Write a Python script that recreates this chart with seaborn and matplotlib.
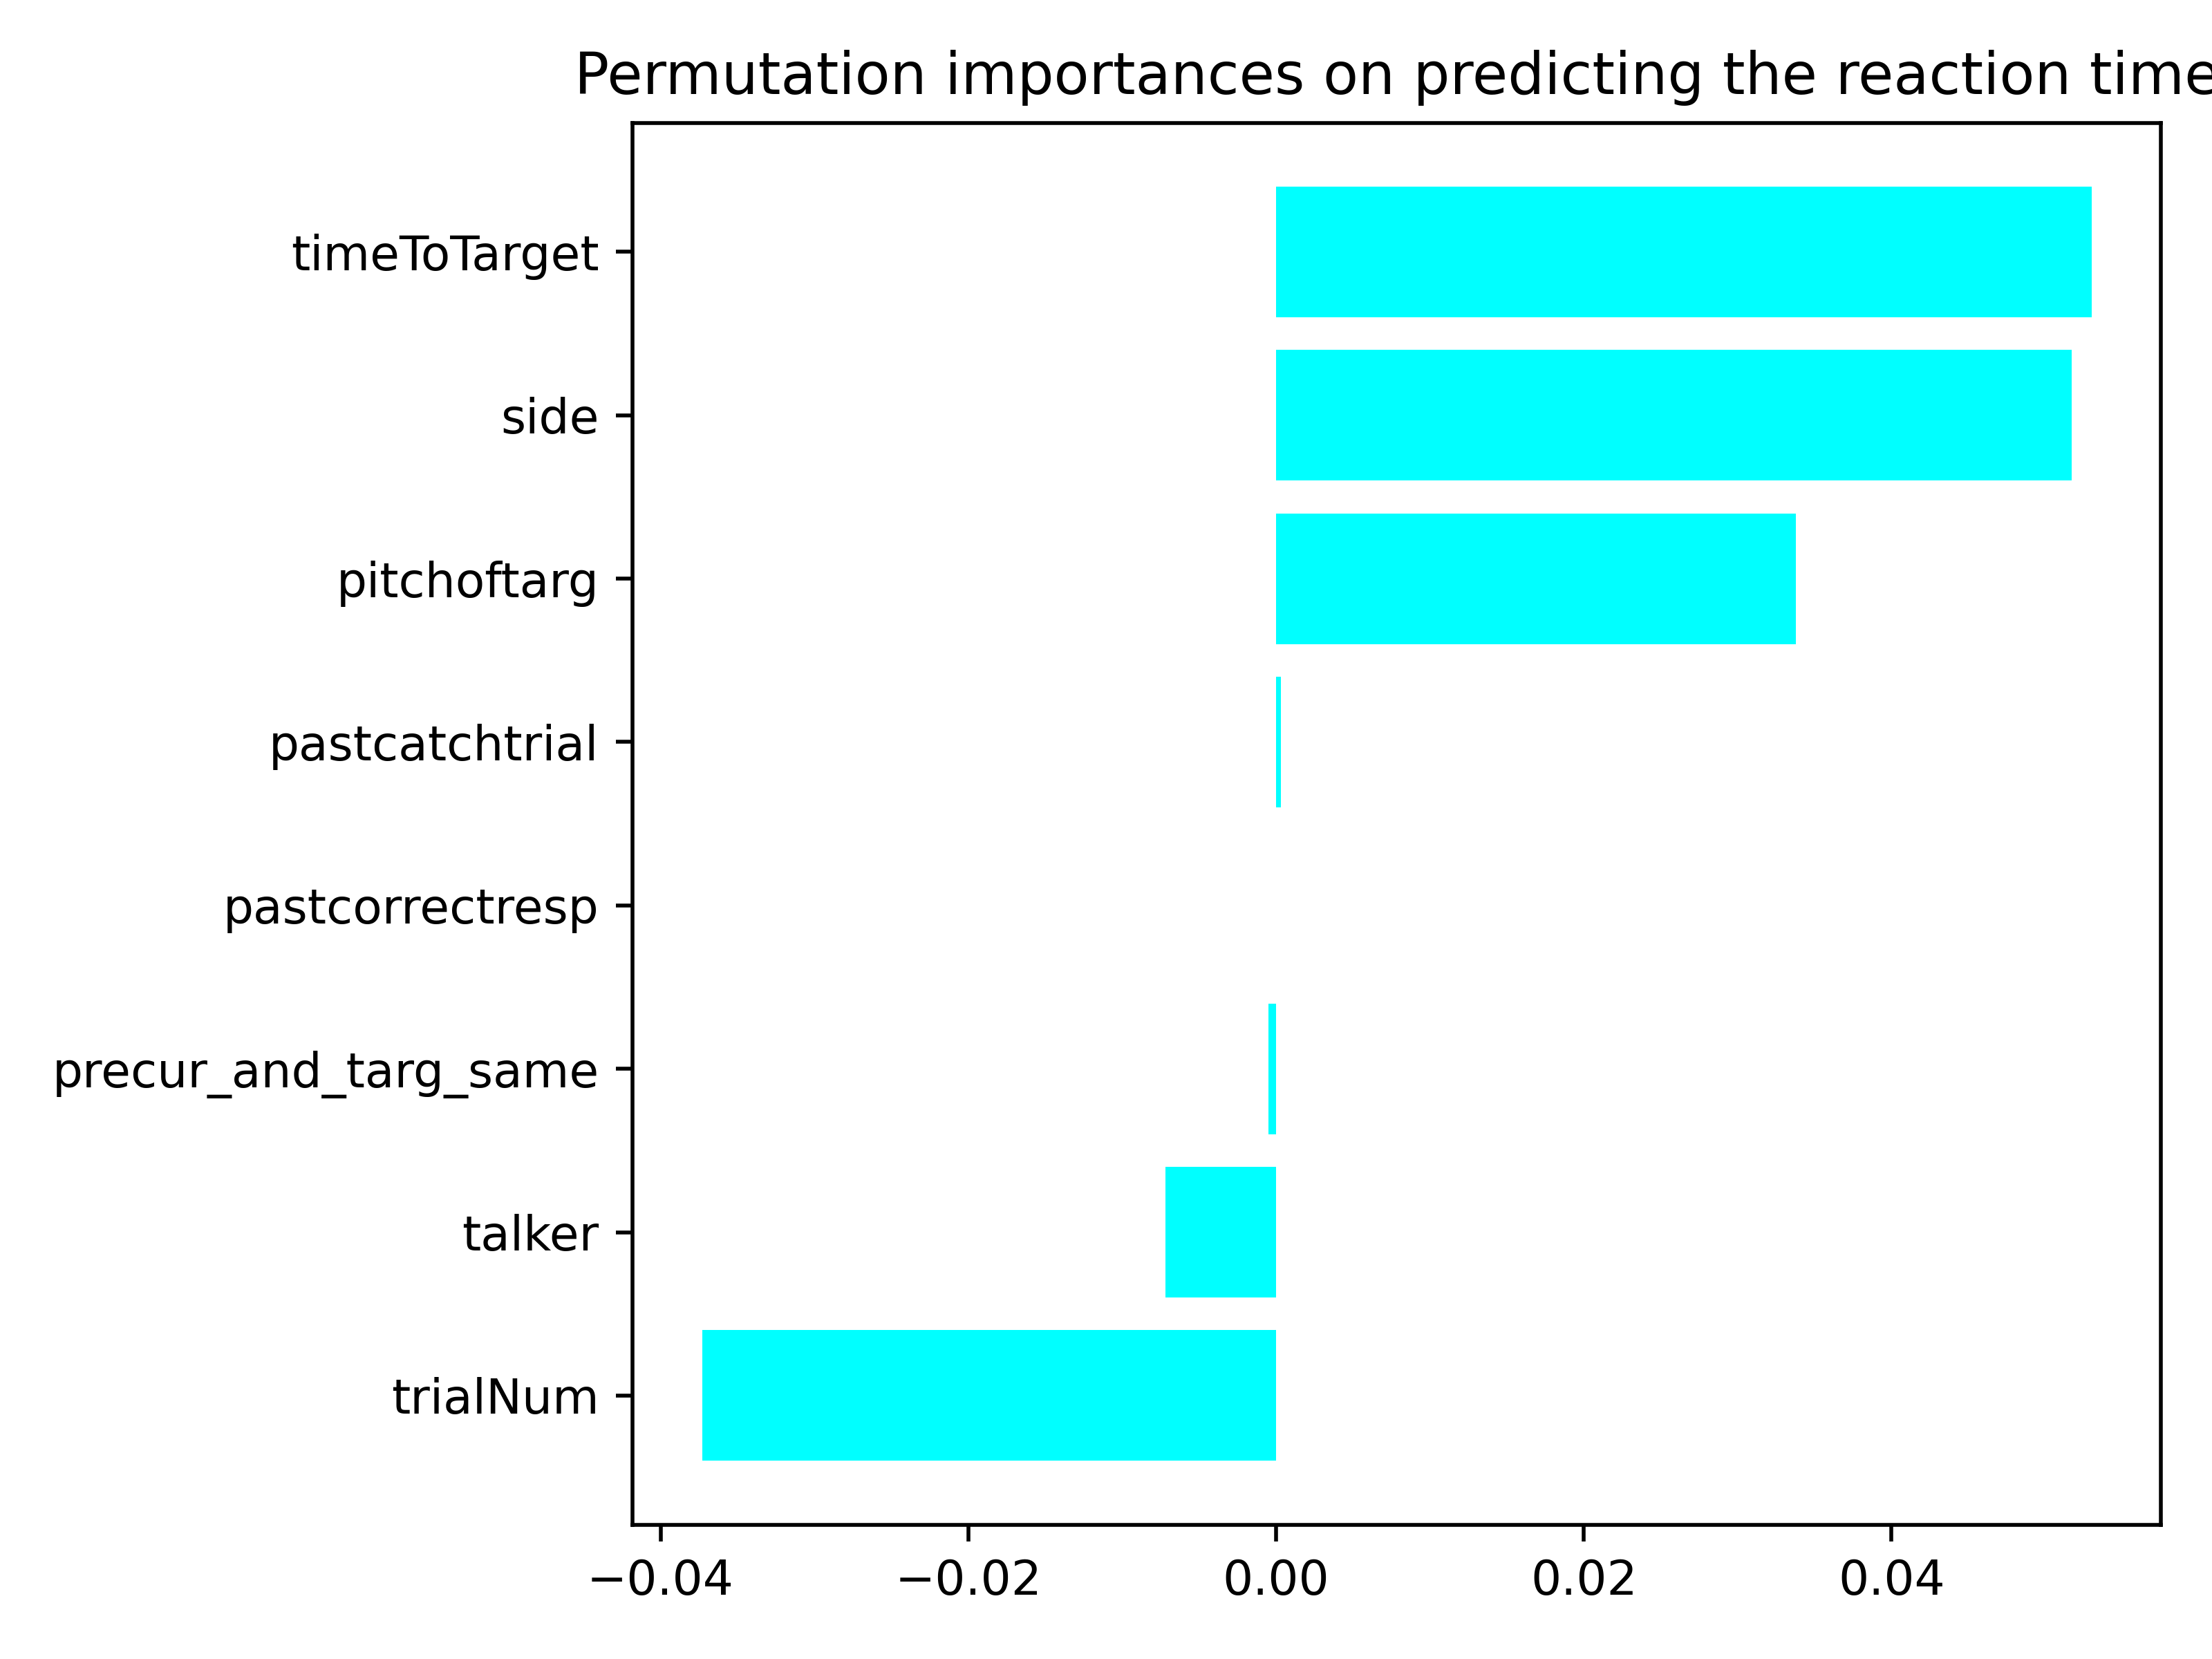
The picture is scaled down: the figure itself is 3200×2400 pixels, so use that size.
import pandas as pd
import seaborn as sns
import matplotlib
matplotlib.use("Agg")
import matplotlib.pyplot as plt

# Permutation importances (top to bottom)
features = ["timeToTarget", "side", "pitchoftarg", "pastcatchtrial",
            "pastcorrectresp", "precur_and_targ_same", "talker", "trialNum"]
importances = [0.0530, 0.0517, 0.0338, 0.0003, 0.0, -0.0005, -0.0072, -0.0373]

df = pd.DataFrame({"feature": features, "importance": importances})

fig, ax = plt.subplots(figsize=(6.4, 4.8), dpi=500)
sns.barplot(data=df, x="importance", y="feature", color="cyan",
            saturation=1, errorbar=None, width=0.8, ax=ax)

# back to plain matplotlib autoscaling (keeps the inverted category axis)
ax.autoscale(enable=True, axis="y")
ax.set_xlabel("")
ax.set_ylabel("")
ax.set_title("Permutation importances on predicting the reaction time")

plt.subplots_adjust(left=0.286, right=0.977, bottom=0.081, top=0.926)
plt.savefig("out.png", dpi=500)
